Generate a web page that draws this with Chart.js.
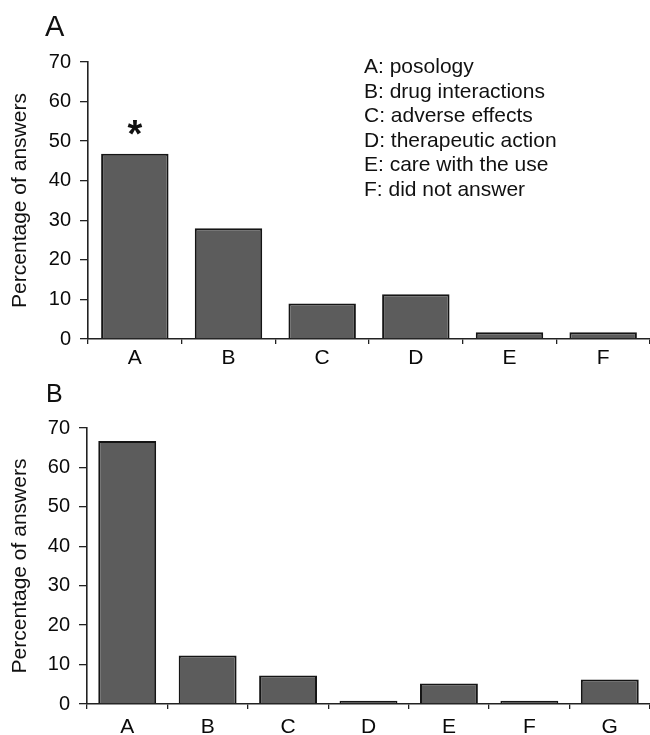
<!DOCTYPE html>
<html>
<head>
<meta charset="utf-8">
<script src="https://cdn.jsdelivr.net/npm/chart.js@4.4.0/dist/chart.umd.min.js"></script>
<style>
body { margin: 0; background: #fff; }
#wrap { position: relative; width: 650px; height: 735px; font-family: "Liberation Sans", Arial, sans-serif; color: #111; }
canvas { position: absolute; left: 0; }
.panel { position: absolute; line-height: 1; }
#key { position: absolute; left: 364px; top: 54px; font-size: 21px; line-height: 24.5px; white-space: pre; }
</style>
</head>
<body>
<div id="wrap">
  <canvas id="chartA" style="top:0" width="650" height="370"></canvas>
  <canvas id="chartB" style="top:370px" width="650" height="365"></canvas>
  <div class="panel" style="left:45px; top:12px; font-size:29px">A</div>
  <div class="panel" style="left:46px; top:381px; font-size:25px">B</div>
  <div id="key"></div>
</div>
<script>
const FONT = '"Liberation Sans", Arial, sans-serif';

const catsA = ['A', 'B', 'C', 'D', 'E', 'F'];
const valuesA = [46.8, 28, 9, 11.3, 1.7, 1.7];

const catsB = ['A', 'B', 'C', 'D', 'E', 'F', 'G'];
const valuesB = [66.7, 12.3, 7.2, 0.8, 5.2, 0.8, 6.2];

const keyLabels = [
    'A: posology',
    'B: drug interactions',
    'C: adverse effects',
    'D: therapeutic action',
    'E: care with the use',
    'F: did not answer'
];

document.getElementById('key').textContent = keyLabels.join('\n');

// asterisk over the first bar of panel A
const starPlugin = {
    id: 'star',
    afterDatasetsDraw(chart) {
        const bar = chart.getDatasetMeta(0).data[0];
        const ctx = chart.ctx;
        ctx.save();
        ctx.fillStyle = '#111';
        ctx.font = 'bold 38px ' + FONT;
        ctx.textAlign = 'center';
        ctx.textBaseline = 'alphabetic';
        ctx.fillText('*', bar.x, bar.y - 7);
        ctx.restore();
    }
};

function makeChart(id, labels, values, padTop, axisW, xPad, plugins) {
    const ctx = document.getElementById(id).getContext('2d');
    return new Chart(ctx, {
        type: 'bar',
        data: {
            labels: labels,
            datasets: [{
                data: values,
                backgroundColor: '#5c5c5c',
                borderColor: '#151515',
                borderWidth: 2,
                categoryPercentage: 1,
                barPercentage: 0.72
            }]
        },
        plugins: plugins,
        options: {
            responsive: false,
            animation: false,
            layout: { padding: { top: padTop, right: 0, left: 0, bottom: 0 } },
            plugins: { legend: { display: false }, tooltip: { enabled: false } },
            scales: {
                x: {
                    offset: true,
                    grid: { offset: true, drawOnChartArea: false, tickLength: 5, color: '#222', lineWidth: 1.3 },
                    border: { color: '#222', width: 1.6 },
                    ticks: { color: '#0a0a0a', font: { size: 21, family: FONT }, padding: xPad },
                    afterFit: s => { s.height = 31; }
                },
                y: {
                    min: 0,
                    max: 70,
                    ticks: { stepSize: 10, color: '#0a0a0a', font: { size: 20, family: FONT }, padding: 9 },
                    grid: { drawOnChartArea: false, tickLength: 8, color: '#222', lineWidth: 1.3 },
                    border: { color: '#222', width: 1.6 },
                    title: { display: true, text: 'Percentage of answers', color: '#111', font: { size: 21, family: FONT }, padding: { top: 8, bottom: 0 } },
                    afterFit: s => { s.width = axisW; }
                }
            }
        }
    });
}

makeChart('chartA', catsA, valuesA, 62, 88, 2, [starPlugin]);
makeChart('chartB', catsB, valuesB, 58, 87, 6, []);
</script>
</body>
</html>
